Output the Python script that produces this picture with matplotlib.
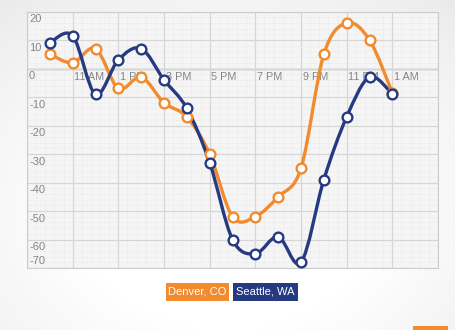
import numpy as np
import matplotlib
matplotlib.use("Agg")
import matplotlib.pyplot as plt
from matplotlib.path import Path
from matplotlib.patches import PathPatch, Rectangle
import matplotlib.transforms as mtransforms

# hours after 9 AM
hours = [1, 2, 3, 4, 5, 6, 7, 8, 9, 10, 11, 12, 13, 14, 15, 16]
denver = [5, 2, 7, -7, -3, -12, -17, -30, -52, -52, -45, -35, 5, 16, 10, -8.5]
seattle = [9, 11.5, -9, 3, 7, -4, -14, -33, -60, -65, -59, -68, -39, -17, -3, -9]

x_ticks = [2, 4, 6, 8, 10, 12, 14, 16]
x_labels = ["11 AM", "1 PM", "3 PM", "5 PM", "7 PM", "9 PM", "11 PM", "1 AM"]
y_ticks = [20, 10, 0, -10, -20, -30, -40, -50, -60, -70]

ORANGE = "#F28A2E"
NAVY = "#263A82"
LABEL_GRAY = "#858585"
FONT = ["Liberation Sans", "DejaVu Sans"]


def smooth_path(xs, ys):
    # Catmull-Rom through the points, written as cubic Bezier segments
    pts = np.column_stack([xs, ys]).astype(float)
    verts = [pts[0]]
    codes = [Path.MOVETO]
    n = len(pts)
    for i in range(n - 1):
        p0 = pts[max(i - 1, 0)]
        p1 = pts[i]
        p2 = pts[i + 1]
        p3 = pts[min(i + 2, n - 1)]
        c1 = p1 + (p2 - p0) / 6.0
        c2 = p2 - (p3 - p1) / 6.0
        verts += [c1, c2, p2]
        codes += [Path.CURVE4] * 3
    return Path(verts, codes)


fig = plt.figure(figsize=(4.55, 3.3), dpi=100)

# soft grey backdrop, lighter towards the middle
bg = fig.add_axes([0, 0, 1, 1], zorder=-10)
gx, gy = np.meshgrid(np.linspace(-1, 1, 200), np.linspace(-1, 1, 150))
r = np.sqrt((gx * 0.85) ** 2 + ((gy + 0.3) * 0.8) ** 2)
bg.imshow(np.clip(r - 0.55, 0, 1), cmap="Greys", vmin=0, vmax=5, aspect="auto",
          extent=[0, 1, 0, 1], origin="lower")
bg.axis("off")

ax = fig.add_axes([27 / 455, 1 - 268 / 330, 411 / 455, 256.5 / 330])
ax.set_facecolor("#F5F5F5")
ax.set_xlim(0, 18)
ax.set_ylim(-70, 20)

# fine dotted texture plus the main grid
ax.set_xticks(np.arange(0, 18.01, 0.4), minor=True)
ax.set_yticks(np.arange(-70, 20.01, 2), minor=True)
ax.grid(which="minor", color="#E6E6E6", linewidth=0.5, linestyle=(0, (1, 1)))
ax.set_xticks(np.arange(0, 18.01, 2))
ax.set_yticks(np.arange(-70, 20.01, 10))
ax.grid(which="major", color="#D6D6D6", linewidth=0.9)
ax.tick_params(which="both", length=0, labelbottom=False, labelleft=False)
ax.axhline(0, color="#ABABAB", linewidth=1.0, zorder=1)
for side in ax.spines.values():
    side.set_color("#CCCCCC")
    side.set_linewidth(0.8)

# y labels sit just under their grid line, the bottom one above it
for v in y_ticks:
    if v == -70:
        off = mtransforms.offset_copy(ax.transData, fig=fig, x=1.5, y=1.5, units="points")
        va = "bottom"
    else:
        off = mtransforms.offset_copy(ax.transData, fig=fig, x=1.5, y=-2, units="points")
        va = "top"
    ax.text(0, v, str(v), transform=off, ha="left", va=va, fontsize=8,
            color=LABEL_GRAY, family=FONT, zorder=2)

off = mtransforms.offset_copy(ax.transData, fig=fig, x=1.2, y=-2.5, units="points")
for xt, lab in zip(x_ticks, x_labels):
    ax.text(xt, 0, lab, transform=off, ha="left", va="top", fontsize=7.8,
            color=LABEL_GRAY, family=FONT, zorder=2)

for ys, col in [(denver, ORANGE), (seattle, NAVY)]:
    ax.add_patch(PathPatch(smooth_path(hours, ys), facecolor="none", edgecolor=col,
                           linewidth=2.4, zorder=4, capstyle="round", joinstyle="round"))
    ax.plot(hours, ys, linestyle="none", marker="o", markersize=7,
            markerfacecolor="white", markeredgecolor=col, markeredgewidth=1.7, zorder=5)

# legend as two coloured tags
for x0, w, col, lab in [(166, 63, ORANGE, "Denver, CO"), (233, 65, NAVY, "Seattle, WA")]:
    fig.patches.append(Rectangle((x0 / 455, 1 - 301 / 330), w / 455, 18 / 330,
                                 transform=fig.transFigure, facecolor=col,
                                 edgecolor="none", zorder=3))
    fig.text((x0 + w / 2) / 455, 1 - 292 / 330, lab, ha="center", va="center",
             color="white", fontsize=8, family=FONT, zorder=4)

# corner tab
fig.patches.append(Rectangle((413 / 455, 0), 35 / 455, 4 / 330, transform=fig.transFigure,
                             facecolor=ORANGE, edgecolor="none", zorder=3))

fig.savefig("out.png", dpi=100)
